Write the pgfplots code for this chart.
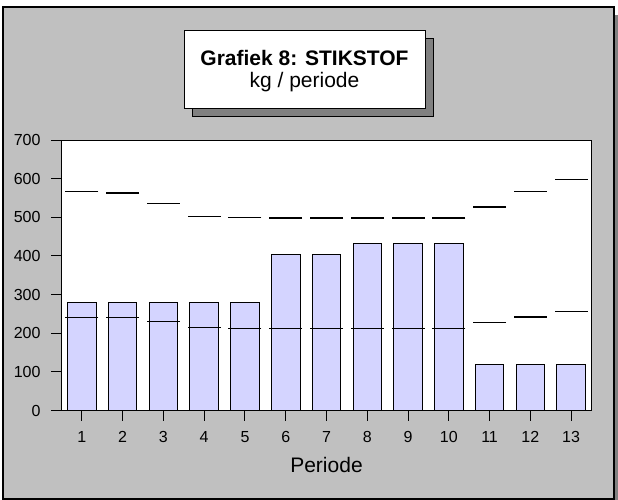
\documentclass[border=0pt]{standalone}
\usepackage{fontspec}
\setmainfont{Liberation Sans}
\usepackage{pgfplots}
\pgfplotsset{compat=1.18}
\definecolor{bg}{RGB}{192,192,192}
\definecolor{shadowc}{RGB}{128,128,128}
\definecolor{barfill}{RGB}{212,212,255}
\begin{document}
\begin{tikzpicture}
\useasboundingbox (0,0) rectangle (618bp,500bp);
\clip (0,0) rectangle (618bp,500bp);
\fill[shadowc] (11bp,-10bp) rectangle (625bp,485bp);
\filldraw[fill=bg, draw=black, line width=1.5bp] (3bp,1bp) rectangle (614bp,493bp);
\filldraw[fill=shadowc, draw=black, line width=1bp] (192bp,383bp) rectangle (433bp,461bp);
\filldraw[fill=white, draw=black, line width=1bp] (184bp,391bp) rectangle (425bp,469bp);
\node[anchor=base, inner sep=0pt, font=\fontsize{21bp}{25bp}\selectfont\bfseries] at (304.5bp,434bp) {Grafiek 8: STIKSTOF};
\node[anchor=base, inner sep=0pt, font=\fontsize{21bp}{25bp}\selectfont] at (304.5bp,412bp) {kg / periode};
\begin{axis}[
  at={(61.5bp,89.5bp)}, anchor=south west,
  scale only axis, width=530bp, height=270.5bp,
  xmin=0.5, xmax=13.5, ymin=0, ymax=700,
  xtick={1,...,13}, ytick={0,100,...,700},
  tick pos=left, tick align=outside, major tick length=10.5bp,
  axis background/.style={fill=white},
  axis line style={black, line width=1bp},
  tick style={black, line width=1bp},
  /pgf/number format/assume math mode=true,
  ticklabel style={font=\fontsize{16bp}{19bp}\selectfont},
  xticklabel style={yshift=-7bp},
  yticklabel style={xshift=-7bp},
  xlabel={Periode},
  xlabel style={font=\fontsize{21bp}{25bp}\selectfont, at={(axis description cs:0.5,0)}, anchor=base, yshift=-62bp},
]
\addplot[ybar, bar width=0.7, fill=barfill, draw=black, line width=1bp] coordinates {
(1,280) (2,280) (3,280) (4,280) (5,280) (6,404) (7,404) (8,433) (9,433) (10,433) (11,118) (12,118) (13,118)};
\addplot[only marks, mark=-, mark size=16.5bp, mark options={line width=1.3bp, draw=black}] coordinates {
(1,566) (2,563) (3,536) (4,502) (5,499) (6,498) (7,498) (8,498) (9,498) (10,498) (11,527) (12,566) (13,598)};
\addplot[only marks, mark=-, mark size=16.5bp, mark options={line width=1.3bp, draw=black}] coordinates {
(1,241.5) (2,241.5) (3,230) (4,215.5) (5,213) (6,213) (7,213) (8,213) (9,213) (10,213) (11,227) (12,242) (13,256)};
\end{axis}
\end{tikzpicture}
\end{document}
